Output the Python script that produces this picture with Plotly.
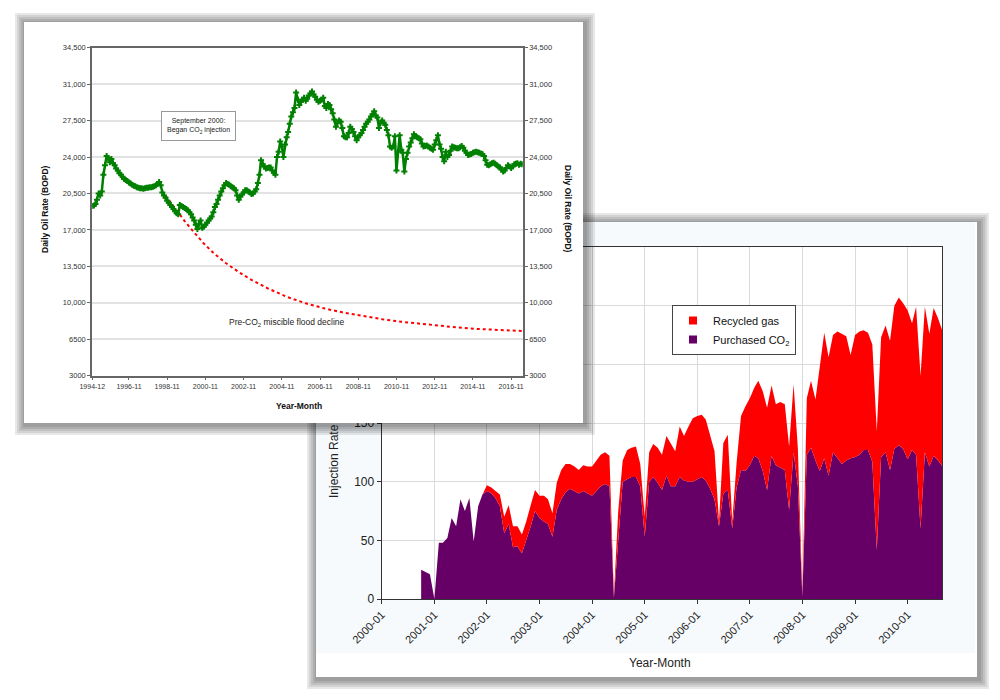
import pandas as pd
import plotly.graph_objects as go

# ---------------- top chart: daily oil rate (monthly, from 1994-12) ----------------
oil_rate = [
    19300,
    19350, 19500, 19900, 20500, 20300, 20700, 22300, 23200, 24100, 23900, 23500, 23800,
    23400, 23200, 22900, 22700, 22450, 22300, 22100, 21900, 21800, 21700, 21550, 21450,
    21350, 21250, 21200, 21100, 21050, 21000, 21000, 20950, 21000, 21050, 21050, 21100,
    21100, 21150, 21200, 21300, 21400, 21600, 21300, 20600, 20300, 20100, 19800, 19600,
    19400, 19200, 19000, 18800, 18600, 18500, 19400, 19300, 19200, 19100, 19000, 18900,
    18700, 18500, 18200, 17900, 17500, 17100, 17600, 17900, 17200, 17300, 17500, 17700,
    17900, 18100, 18300, 18700, 19200, 19500, 19900, 20300, 20700, 21000, 21300, 21500,
    21400, 21350, 21200, 21100, 21000, 20800, 20300, 19900, 20200, 20400, 20600, 20800,
    20800, 20700, 20600, 20450, 20500, 20700, 20900, 21500, 22300, 23700, 23300, 23100,
    22900, 22950, 23000, 23000, 22700, 22500, 22300, 24000, 24500, 25500, 25000, 24000,
    25200, 25900, 26400, 27200, 27900, 28300, 28700, 30200, 29500, 29000, 29300, 29500,
    29700, 29400, 29600, 29900, 30100, 30300, 30000, 29800, 29500, 29300, 29400, 29500,
    29700, 28900, 28700, 29100, 29000, 28600, 28200, 27600, 26900, 27300, 27500, 27400,
    26800, 26000, 25900, 25900, 26300, 26900, 26700, 26400, 26000, 25600, 25900, 26100,
    26300, 26600, 26900, 27200, 27400, 27600, 27900, 28100, 28400, 28000, 27800, 26800,
    27300, 27500, 27300, 27100, 26600, 26100, 25000, 24900, 25000, 26000, 22700, 24500,
    26100, 24700, 24400, 22600, 23800, 24400, 25000, 25400, 25800, 26200, 26000, 25900,
    25800, 25700, 25300, 25000, 25050, 25100, 25000, 24900, 24800, 24700, 25200, 25600,
    26100, 25200, 24800, 24000, 23600, 24500, 24000, 24200, 24600, 25000, 24950, 24900,
    24850, 24850, 24950, 25050, 24900, 24600, 24400, 24200, 24250, 24300, 24400, 24450,
    24500, 24450, 24400, 24350, 24300, 24100, 23700, 23250, 23200, 23300, 23400, 23450,
    23350, 23200, 23100, 23000, 22800, 22600, 22700, 22950, 23200, 23100, 22950, 23100,
    23300, 23350, 23400, 23250, 23350, 23300,
]
oil_months = pd.date_range("1994-12-01", periods=len(oil_rate), freq="MS")

decline_months = ["1998-10-01", "1999-04-01", "1999-10-01", "2000-04-01", "2000-10-01",
                  "2001-04-01", "2001-12-01", "2002-08-01", "2003-04-01", "2004-02-01",
                  "2005-02-01", "2006-02-01", "2007-02-01", "2008-02-01", "2009-02-01",
                  "2010-02-01", "2011-02-01", "2012-02-01", "2013-02-01", "2014-02-01",
                  "2015-02-01", "2016-04-01", "2017-06-01"]
decline_rate = [20300, 19050, 17850, 16750, 15700, 14800, 13800, 12950, 12200, 11400,
                10580, 9950, 9450, 9050, 8700, 8420, 8180, 7970, 7780, 7620,
                7490, 7370, 7290]

oil_tick_dates = ["1994-12-01", "1996-11-01", "1998-11-01", "2000-11-01", "2002-11-01",
                  "2004-11-01", "2006-11-01", "2008-11-01", "2010-11-01", "2012-11-01",
                  "2014-11-01", "2016-11-01"]
oil_tick_text = ["1994-12", "1996-11", "1998-11", "2000-11", "2002-11", "2004-11",
                 "2006-11", "2008-11", "2010-11", "2012-11", "2014-11", "2016-11"]
oil_ytick_vals = [3000, 6500, 10000, 13500, 17000, 20500, 24000, 27500, 31000, 34500]
oil_ytick_text = ["3000", "6500", "10,000", "13,500", "17,000", "20,500", "24,000",
                  "27,500", "31,000", "34,500"]

# ---------------- bottom chart: injection rate (monthly, from 2000-10) ----------------
purchased_co2 = [
    25, 23, 21,
    0, 48, 48, 52, 69, 62, 85, 75, 86, 49, 79, 89,
    92, 90, 86, 79, 56, 64, 44, 45, 39, 50, 62, 75,
    69, 66, 64, 53, 76, 85, 91, 94, 92, 90, 92, 90,
    88, 92, 96, 98, 96, 1, 50, 100, 102, 104, 104, 96,
    53, 100, 104, 99, 93, 105, 96, 96, 104, 101, 100, 100,
    102, 104, 101, 94, 85, 62, 90, 93, 60, 95, 110, 109,
    114, 122, 120, 109, 93, 122, 114, 112, 110, 76, 125, 96,
    2, 123, 129, 118, 109, 120, 105, 125, 120, 115, 118, 120,
    121, 123, 127, 127, 117, 42, 121, 125, 110, 128, 131, 128,
    119, 127, 123, 60, 125, 113, 122, 118, 113,
]
recycled_gas = [
    0, 0, 0,
    0, 0, 0, 0, 0, 0, 0, 0, 0, 0, 0, 0,
    5, 5, 6, 10, 14, 16, 18, 17, 16, 16, 18, 18,
    19, 22, 21, 20, 23, 25, 24, 21, 21, 20, 22, 23,
    25, 26, 27, 27, 26, 2, 25, 18, 25, 25, 26, 19,
    17, 25, 28, 30, 30, 34, 37, 30, 43, 38, 47, 54,
    54, 53, 52, 46, 41, 4, 43, 47, 6, 21, 46, 55,
    57, 58, 66, 68, 70, 60, 52, 56, 56, 54, 58, 32,
    1, 48, 57, 52, 87, 107, 101, 100, 108, 111, 106, 88,
    104, 105, 102, 100, 100, 101, 102, 108, 110, 122, 126, 124,
    127, 108, 126, 130, 124, 113, 126, 121, 115,
]
inj_months = pd.date_range("2000-10-01", periods=len(purchased_co2), freq="MS")
inj_tick_dates = [f"{y}-01-01" for y in range(2000, 2011)]
inj_tick_text = [f"{y}-01" for y in range(2000, 2011)]

FONT = "Liberation Sans, Arial, Helvetica, sans-serif"
PURPLE = "#660066"
RED = "#ff0000"
GREEN = "#008000"
OFF = 8  # the page body adds an 8px margin round the figure


def px(x):
    return (x - OFF) / 1000


def py(y):
    return 1 - (y - OFF) / 700


def shadow(x0, y0, x1, y1, ref):
    out = []
    for k in [10, 8, 6, 4, 2]:
        out.append(dict(type="rect", xref=ref[0], yref=ref[1], layer="below",
                        x0=ref[2](x0 - k + 1), x1=ref[2](x1 + k + 2),
                        y0=ref[3](y0 - k + 1), y1=ref[3](y1 + k + 2),
                        line=dict(width=0), fillcolor="rgba(0,0,0,0.09)"))
    return out


paper = ("paper", "paper", px, py)
card = ("x2", "y2", lambda v: v, lambda v: v)

shapes = []
# bottom card (below everything)
shapes += shadow(316, 222, 977, 677, paper)
shapes.append(dict(type="rect", xref="paper", yref="paper", layer="below",
                   x0=px(316), x1=px(977), y0=py(222), y1=py(677),
                   line=dict(width=0), fillcolor="white"))
shapes.append(dict(type="rect", xref="paper", yref="paper", layer="below",
                   x0=px(316), x1=px(975), y0=py(222), y1=py(653),
                   line=dict(width=0), fillcolor="#f6fafd"))
shapes.append(dict(type="rect", xref="paper", yref="paper", layer="below",
                   x0=px(381.7), x1=px(942), y0=py(247), y1=py(599),
                   line=dict(width=0), fillcolor="white"))
# top card, drawn inside a full-page helper subplot that sits above the bottom chart
shapes += shadow(24, 22, 583, 423, card)
shapes.append(dict(type="rect", xref="x2", yref="y2", layer="below",
                   x0=24, x1=583, y0=22, y1=423,
                   line=dict(width=0), fillcolor="white"))

fig = go.Figure()

# bottom chart
fig.add_trace(go.Scatter(x=inj_months, y=purchased_co2, stackgroup="inj", mode="lines",
                         line=dict(width=0, color=PURPLE), fillcolor=PURPLE,
                         showlegend=False, hoverinfo="skip"))
fig.add_trace(go.Scatter(x=inj_months, y=recycled_gas, stackgroup="inj", mode="lines",
                         line=dict(width=0, color=RED), fillcolor=RED,
                         showlegend=False, hoverinfo="skip"))
fig.add_trace(go.Scatter(x=[None], y=[None], mode="markers", name="Recycled gas",
                         marker=dict(symbol="square", size=8, color=RED)))
fig.add_trace(go.Scatter(x=[None], y=[None], mode="markers", name="Purchased CO<sub>2</sub>",
                         marker=dict(symbol="square", size=8, color=PURPLE)))

# helper subplot holding the top card
fig.add_trace(go.Scatter(x=[None], y=[None], xaxis="x2", yaxis="y2",
                         showlegend=False, hoverinfo="skip"))

# top chart
fig.add_trace(go.Scatter(x=decline_months, y=decline_rate, xaxis="x3", yaxis="y3",
                         mode="lines", line=dict(color=RED, width=2, dash="dot"),
                         showlegend=False))
fig.add_trace(go.Scatter(x=oil_months, y=oil_rate, xaxis="x3", yaxis="y3",
                         mode="lines+markers", line=dict(color=GREEN, width=2.5),
                         marker=dict(symbol="cross", size=5, color=GREEN),
                         showlegend=False))
fig.add_trace(go.Scatter(x=[None], y=[None], xaxis="x3", yaxis="y4",
                         showlegend=False, hoverinfo="skip"))

small = dict(family=FONT, size=7.5, color="#333")


def note(text, x, y, size, angle=0, bold=False, **kw):
    return dict(text=f"<b>{text}</b>" if bold else text, x=px(x), y=py(y),
                xref="paper", yref="paper", xanchor="center", yanchor="middle",
                textangle=angle, showarrow=False,
                font=dict(family=FONT, size=size, color="#111" if bold else "#222"), **kw)


fig.update_layout(
    template="none",
    width=1000, height=700,
    margin=dict(l=0, r=0, t=0, b=0, pad=0, autoexpand=False),
    paper_bgcolor="white", plot_bgcolor="rgba(0,0,0,0)",
    font=dict(family=FONT, color="#222"),
    shapes=shapes,
    showlegend=True,
    legend=dict(x=px(672), y=py(305), xanchor="left", yanchor="top",
                bgcolor="white", bordercolor="#444", borderwidth=1, traceorder="normal",
                font=dict(family=FONT, size=11, color="#111"), tracegroupgap=0),
    xaxis=dict(domain=[px(381.7), px(942)], anchor="y", type="date", automargin=False,
               range=["2000-01-01", "2010-08-28"],
               tickvals=inj_tick_dates, ticktext=inj_tick_text, tickangle=-45,
               tickfont=dict(family=FONT, size=11, color="#222"),
               showgrid=True, gridcolor="#dadada", gridwidth=1,
               showline=True, linecolor="#333", linewidth=1.2, mirror=True,
               ticks="outside", ticklen=4, tickcolor="#333", zeroline=False),
    yaxis=dict(domain=[py(599), py(247)], anchor="x", range=[0, 300], automargin=False,
               tickvals=[0, 50, 100, 150, 200, 250, 300],
               tickfont=dict(family=FONT, size=12, color="#222"),
               showgrid=True, gridcolor="#dadada", gridwidth=1,
               showline=True, linecolor="#333", linewidth=1.2, mirror=True,
               ticks="outside", ticklen=4, tickcolor="#333", zeroline=False),
    xaxis2=dict(domain=[0, 1], anchor="y2", range=[OFF, 1000 + OFF], visible=False,
                fixedrange=True, automargin=False),
    yaxis2=dict(domain=[0, 1], anchor="x2", range=[700 + OFF, OFF], visible=False,
                fixedrange=True, automargin=False),
    xaxis3=dict(domain=[px(92.3), px(522.7)], anchor="y3", type="date", automargin=False,
                range=["1994-12-01", "2017-06-10"],
                tickvals=oil_tick_dates, ticktext=oil_tick_text, tickangle=0,
                tickfont=dict(family=FONT, size=7, color="#333"),
                showgrid=False, showline=True, linecolor="#666", linewidth=1.5,
                mirror=True, ticks="outside", ticklen=3, tickcolor="#666", zeroline=False),
    yaxis3=dict(domain=[py(375.7), py(47.7)], anchor="x3", range=[3000, 34500],
                automargin=False,
                tickvals=oil_ytick_vals, ticktext=oil_ytick_text, tickfont=small,
                showgrid=True, gridcolor="#e2e2e2", gridwidth=1.5,
                showline=True, linecolor="#666", linewidth=2, mirror=True,
                ticks="outside", ticklen=3, tickcolor="#666", zeroline=False),
    yaxis4=dict(overlaying="y3", side="right", anchor="x3", range=[3000, 34500],
                automargin=False,
                tickvals=oil_ytick_vals, ticktext=oil_ytick_text, tickfont=small,
                showgrid=False, showline=True, linecolor="#666", linewidth=2,
                ticks="outside", ticklen=3, tickcolor="#666", zeroline=False),
    annotations=[
        note("Injection Rate", 334, 461, 12, angle=-90),
        note("Year-Month", 660, 663, 12),
        note("Daily Oil Rate (BOPD)", 45, 209, 8.5, angle=-90, bold=True),
        note("Daily Oil Rate (BOPD)", 568, 209, 8.5, angle=90, bold=True),
        note("Year-Month", 299, 406, 8.5, bold=True),
        note("September 2000:<br>Began CO<sub>2</sub> injection", 198.8, 125.7, 7,
             bgcolor="white", bordercolor="#999", borderwidth=1, borderpad=5),
        note("Pre-CO<sub>2</sub> miscible flood decline", 287, 322, 8.5),
    ],
)

fig.write_html("out.html")
